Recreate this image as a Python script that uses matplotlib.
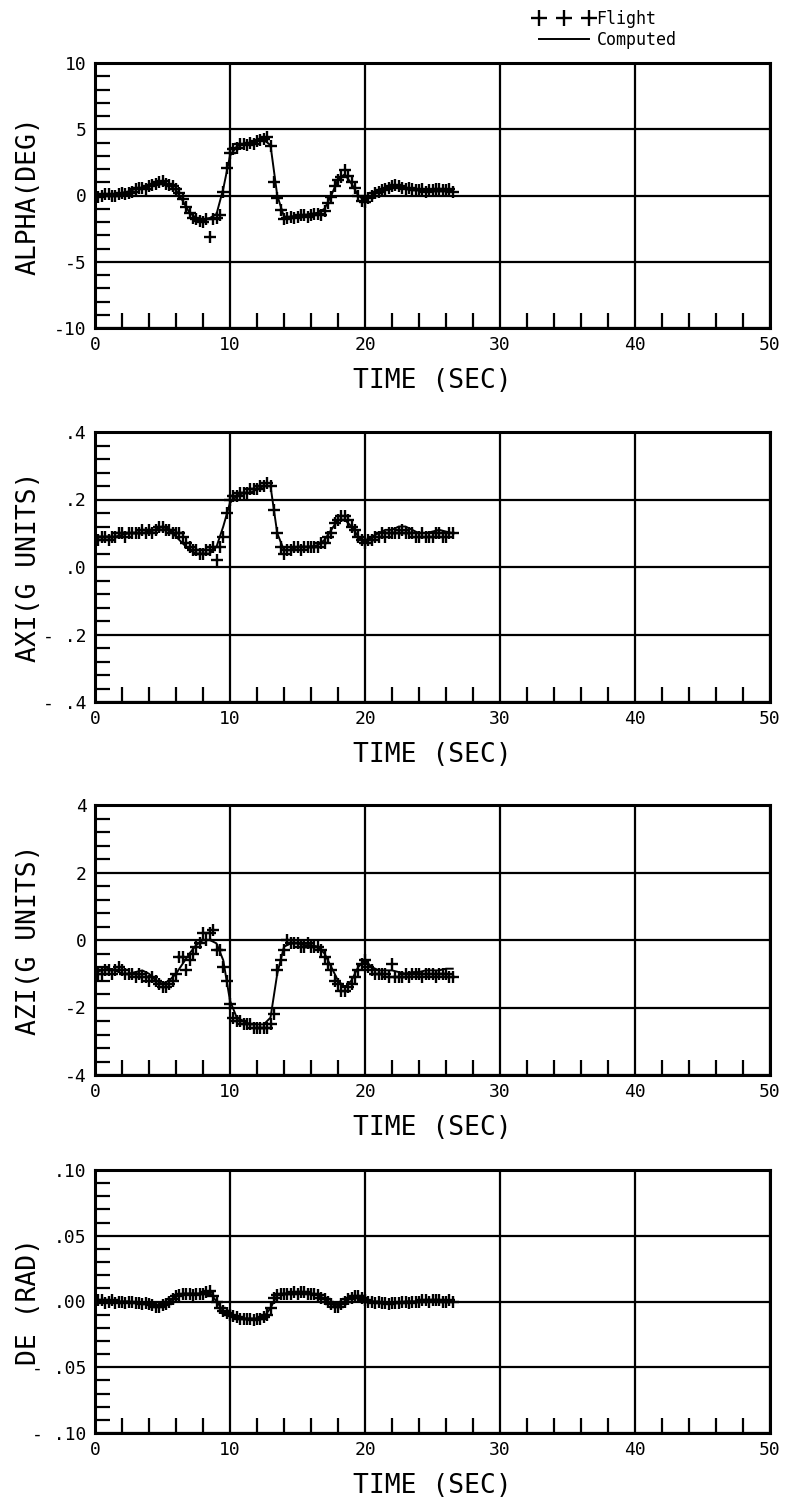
import numpy as np
import matplotlib.pyplot as plt
from matplotlib.ticker import MultipleLocator

plt.rcParams['font.family'] = ['DejaVu Sans Mono']

# flight record every 0.25 s, computed response every 0.5 s
time_flight = np.arange(107) * 0.25
time_comp = np.arange(54) * 0.5

alpha_flight = [0.0, -0.1, 0.0, 0.1, 0.1, 0.0, 0.0, 0.1, 0.2, 0.1,
                0.2, 0.3, 0.5, 0.6, 0.6, 0.5, 0.7, 0.8, 0.9, 1.0,
                1.1, 0.9, 0.8, 0.7, 0.5, 0.2, -0.3, -0.9, -1.3, -1.7,
                -1.8, -1.9, -2.0, -1.8, -3.1, -1.8, -1.7, -1.5, 0.3, 2.1,
                3.2, 3.5, 3.6, 3.9, 3.9, 3.8, 4.0, 3.9, 4.1, 4.2,
                4.3, 4.4, 3.7, 1.0, -0.2, -1.1, -1.8, -1.7, -1.6, -1.7,
                -1.6, -1.5, -1.5, -1.6, -1.5, -1.4, -1.4, -1.5, -1.2, -0.6,
                -0.1, 0.7, 1.2, 1.4, 1.9, 1.5, 1.0, 0.6, 0.0, -0.4,
                -0.5, -0.2, 0.0, 0.2, 0.3, 0.4, 0.5, 0.6, 0.7, 0.8,
                0.7, 0.6, 0.5, 0.6, 0.5, 0.4, 0.4, 0.5, 0.3, 0.4,
                0.4, 0.5, 0.5, 0.4, 0.4, 0.5, 0.3]
alpha_comp = [0.0, 0.0, 0.05, 0.1, 0.2, 0.3, 0.5, 0.6, 0.7, 0.9,
              1.0, 0.8, 0.4, -0.4, -1.3, -1.7, -1.8, -1.7, -1.4, 0.5,
              3.0, 3.7, 3.9, 4.0, 4.1, 4.2, 3.8, 0.0, -1.6, -1.6,
              -1.5, -1.5, -1.4, -1.3, -1.0, 0.0, 1.2, 1.6, 0.9, 0.0,
              -0.4, 0.0, 0.3, 0.5, 0.6, 0.6, 0.5, 0.4, 0.4, 0.3,
              0.3, 0.3, 0.3, 0.3]

axi_flight = [0.09, 0.08, 0.09, 0.09, 0.08, 0.09, 0.09, 0.10, 0.10, 0.09,
              0.10, 0.10, 0.10, 0.10, 0.11, 0.10, 0.11, 0.10, 0.11, 0.12,
              0.12, 0.11, 0.11, 0.10, 0.10, 0.10, 0.09, 0.07, 0.06, 0.05,
              0.05, 0.04, 0.04, 0.05, 0.05, 0.06, 0.02, 0.06, 0.09, 0.16,
              0.20, 0.21, 0.21, 0.22, 0.22, 0.22, 0.23, 0.23, 0.23, 0.24,
              0.24, 0.25, 0.24, 0.17, 0.10, 0.06, 0.04, 0.05, 0.05, 0.06,
              0.06, 0.05, 0.06, 0.06, 0.06, 0.06, 0.06, 0.07, 0.07, 0.09,
              0.10, 0.13, 0.14, 0.15, 0.15, 0.14, 0.12, 0.11, 0.09, 0.08,
              0.07, 0.08, 0.08, 0.09, 0.09, 0.10, 0.09, 0.10, 0.10, 0.10,
              0.10, 0.11, 0.10, 0.10, 0.10, 0.09, 0.09, 0.10, 0.09, 0.09,
              0.09, 0.10, 0.10, 0.09, 0.09, 0.10, 0.10]
axi_comp = [0.09, 0.09, 0.09, 0.09, 0.095, 0.10, 0.10, 0.10, 0.105, 0.11,
            0.12, 0.11, 0.09, 0.07, 0.05, 0.04, 0.04, 0.04, 0.06, 0.12,
            0.19, 0.21, 0.22, 0.22, 0.23, 0.24, 0.24, 0.10, 0.05, 0.05,
            0.06, 0.06, 0.06, 0.065, 0.08, 0.11, 0.14, 0.14, 0.12, 0.09,
            0.07, 0.09, 0.10, 0.11, 0.11, 0.12, 0.12, 0.11, 0.10, 0.10,
            0.105, 0.11, 0.105, 0.10]

azi_flight = [-0.9, -1.0, -1.0, -0.9, -0.9, -1.0, -0.9, -0.8, -0.9, -1.0,
              -1.0, -1.0, -1.1, -1.0, -1.1, -1.1, -1.2, -1.1, -1.2, -1.3,
              -1.4, -1.4, -1.3, -1.2, -1.0, -0.5, -0.5, -0.9, -0.6, -0.4,
              -0.2, -0.1, 0.2, 0.0, 0.2, 0.3, -0.3, -0.3, -0.8, -1.2,
              -1.9, -2.3, -2.4, -2.4, -2.5, -2.5, -2.5, -2.6, -2.6, -2.6,
              -2.6, -2.6, -2.5, -2.2, -0.9, -0.6, -0.3, 0.0, -0.1, -0.1,
              -0.1, -0.2, -0.2, -0.1, -0.2, -0.2, -0.2, -0.3, -0.5, -0.7,
              -0.9, -1.2, -1.3, -1.5, -1.5, -1.4, -1.3, -1.1, -0.9, -0.7,
              -0.6, -0.8, -0.9, -1.0, -1.0, -1.0, -1.0, -1.1, -0.7, -1.1,
              -1.1, -1.1, -1.0, -1.1, -1.0, -1.0, -1.0, -1.1, -1.0, -1.0,
              -1.0, -1.1, -1.0, -1.0, -1.0, -1.1, -1.1]
azi_comp = [-0.95, -0.9, -0.85, -0.9, -1.0, -1.0, -0.95, -0.9, -1.0, -1.2,
            -1.3, -1.2, -1.0, -0.7, -0.4, -0.15, 0.0, 0.0, -0.1, -0.6,
            -1.8, -2.3, -2.4, -2.5, -2.5, -2.5, -2.3, -1.0, -0.2, -0.1,
            -0.1, -0.15, -0.15, -0.2, -0.4, -0.8, -1.2, -1.4, -1.2, -0.8,
            -0.6, -0.8, -0.9, -0.9, -0.9, -0.95, -1.0, -0.95, -0.95, -0.9,
            -0.9, -0.9, -0.85, -0.85]

de_flight = [0.000, 0.001, 0.001, -0.001, 0.000, 0.001, -0.001, 0.000, 0.000, -0.001,
             0.000, 0.000, -0.001, -0.001, -0.002, -0.001, -0.002, -0.003, -0.004, -0.004,
             -0.003, -0.002, 0.000, 0.002, 0.004, 0.005, 0.006, 0.006, 0.006, 0.005,
             0.006, 0.006, 0.006, 0.007, 0.008, 0.004, 0.000, -0.005, -0.007, -0.009,
             -0.010, -0.011, -0.012, -0.013, -0.013, -0.013, -0.013, -0.014, -0.013, -0.013,
             -0.012, -0.010, -0.005, 0.003, 0.005, 0.006, 0.006, 0.006, 0.006, 0.007,
             0.006, 0.007, 0.007, 0.006, 0.006, 0.006, 0.005, 0.003, 0.002, 0.000,
             -0.002, -0.004, -0.004, -0.002, 0.000, 0.002, 0.003, 0.004, 0.004, 0.003,
             0.001, 0.000, 0.000, -0.001, 0.000, -0.001, -0.001, -0.002, -0.001, -0.001,
             -0.001, 0.000, 0.000, -0.001, 0.000, 0.000, 0.000, 0.001, 0.001, 0.000,
             0.001, 0.001, 0.001, 0.000, 0.000, 0.001, 0.000]
de_comp = [0.000, 0.000, 0.000, 0.000, 0.000, 0.000, -0.001, -0.002, -0.002, -0.003,
           -0.003, 0.000, 0.004, 0.006, 0.006, 0.006, 0.006, 0.007, 0.000, -0.007,
           -0.010, -0.012, -0.013, -0.013, -0.013, -0.012, -0.005, 0.005, 0.006, 0.006,
           0.006, 0.006, 0.006, 0.005, 0.002, -0.002, -0.004, 0.000, 0.003, 0.003,
           0.001, 0.000, 0.000, -0.001, -0.001, -0.001, 0.000, 0.000, 0.000, 0.000,
           0.001, 0.001, 0.000, 0.000]

y_names = ["ALPHA(DEG)", "AXI(G UNITS)", "AZI(G UNITS)", "DE (RAD)"]
y_ticks = [[-10, -5, 0, 5, 10],
           [-0.4, -0.2, 0.0, 0.2, 0.4],
           [-4, -2, 0, 2, 4],
           [-0.10, -0.05, 0.0, 0.05, 0.10]]
y_ticklabels = [["-10", "-5", "0", "5", "10"],
                ["- .4", "- .2", ".0", ".2", ".4"],
                ["-4", "-2", "0", "2", "4"],
                ["- .10", "- .05", ".00", ".05", ".10"]]
x_ticks = [0, 10, 20, 30, 40, 50]
x_ticklabels = ["0", "10", "20", "30", "40", "50"]

flights = [alpha_flight, axi_flight, azi_flight, de_flight]
computed = [alpha_comp, axi_comp, azi_comp, de_comp]

W, H = 788, 1497
fig = plt.figure(figsize=(W / 100, H / 100), dpi=100)

# panel extents in pixels (top, bottom)
rows = [(63, 328), (432, 702), (805, 1075), (1170, 1433)]
left, right = 95, 770

axes = []
for i, (top, bot) in enumerate(rows):
    ax = fig.add_axes([left / W, 1 - bot / H, (right - left) / W, (bot - top) / H])
    ax.plot(time_comp, computed[i], color='black', lw=1.4, label='Computed')
    ax.plot(time_flight, flights[i], ls='none', marker='+', ms=8, mew=1.7,
            color='black', label='Flight')
    ax.set_xlim(0, 50)
    ax.set_ylim(y_ticks[i][0], y_ticks[i][-1])
    ax.set_xticks(x_ticks, x_ticklabels)
    ax.set_yticks(y_ticks[i], y_ticklabels[i])
    ax.xaxis.set_minor_locator(MultipleLocator(2))
    ax.yaxis.set_minor_locator(MultipleLocator((y_ticks[i][1] - y_ticks[i][0]) / 5))
    ax.grid(True, which='major', color='black', lw=1.6)
    ax.tick_params(which='major', length=0, pad=6, labelsize=13)
    ax.tick_params(which='minor', direction='in', length=11, width=1.6)
    for s in ax.spines.values():
        s.set_linewidth(2.2)
    ax.set_xlabel("TIME (SEC)", fontsize=19, labelpad=10)
    ax.set_ylabel(y_names[i], fontsize=19)
    ax.yaxis.set_label_coords(-0.079, 0.5)
    axes.append(ax)

h, l = axes[0].get_legend_handles_labels()
fig.legend(h[::-1], l[::-1], loc='upper left', bbox_to_anchor=(534 / W, 1 - 10 / H),
           numpoints=3, markerscale=1.4, frameon=False, fontsize=12,
           handlelength=3.6, handletextpad=0.15, labelspacing=0.2,
           borderpad=0, borderaxespad=0)

fig.savefig('out.png', dpi=100)
